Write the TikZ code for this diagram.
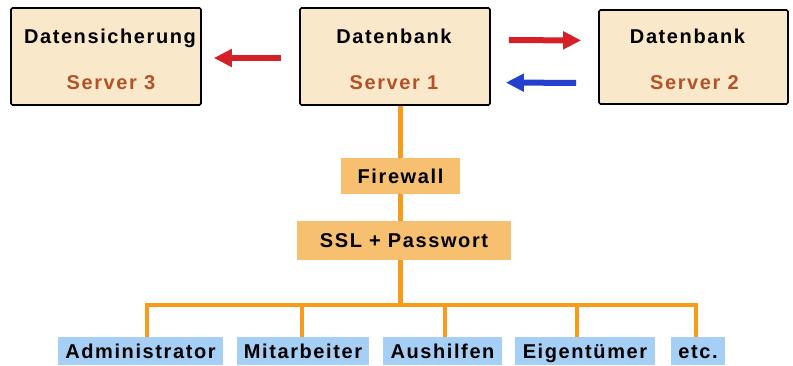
\documentclass[tikz,border=0pt]{standalone}
\usepackage{fontspec}
\setmainfont{Liberation Sans}[LetterSpace=8.0]
\usetikzlibrary{arrows.meta}
\definecolor{boxfill}{RGB}{250,232,202}
\definecolor{brownt}{RGB}{178,82,38}
\definecolor{orl}{RGB}{247,155,24}
\definecolor{orbox}{RGB}{246,192,112}
\definecolor{bluebox}{RGB}{165,207,245}
\definecolor{arrred}{RGB}{214,32,40}
\definecolor{arrblue}{RGB}{36,64,204}
\tikzset{
  server/.style={draw=black, line width=1.6pt, fill=boxfill, rounded corners=1.5pt, inner sep=0pt},
  title/.style={anchor=base, font=\fontsize{20}{24}\selectfont\bfseries, text=black, inner sep=0pt},
  sub/.style={anchor=base, font=\fontsize{20}{24}\selectfont\bfseries, text=brownt, inner sep=0pt},
  secbox/.style={fill=orbox, inner sep=0pt, text height=16pt, text depth=2pt, font=\fontsize{20}{24}\selectfont\bfseries},
  userbox/.style={fill=bluebox, inner sep=0pt, minimum height=28pt, text height=16pt, text depth=2pt, font=\fontsize{20}{24}\selectfont\bfseries},
  flow/.style={line width=6pt, -{Triangle[length=18pt,width=17pt]}},
  bus/.style={draw=orl, line width=4.5pt, line join=miter}
}
\begin{document}
\begin{tikzpicture}[x=1pt,y=-1pt]
\useasboundingbox (0,0) rectangle (793,365);
% server boxes
\node[server, minimum width=190pt, minimum height=97pt] (s3) at (106,56.5) {};
\node[server, minimum width=190pt, minimum height=97pt] (s1) at (395,56.5) {};
\node[server, minimum width=189pt, minimum height=94pt] (s2) at (693.5,57) {};
\node[title] (t3) at ([xshift=4pt,yshift=13.5pt]s3.center) {Datensicherung};
\node[sub]   (u3) at ([xshift=5pt,yshift=-32.5pt]s3.center) {Server 3};
\node[title] (t1) at ([xshift=-1pt,yshift=13.5pt]s1.center) {Datenbank};
\node[sub]   (u1) at ([xshift=-1pt,yshift=-32.5pt]s1.center) {Server 1};
\node[title] (t2) at ([xshift=-6pt,yshift=14pt]s2.center) {Datenbank};
\node[sub]   (u2) at ([xshift=1pt,yshift=-32pt]s2.center) {Server 2};
% replication arrows
\draw[flow, arrred, shorten <=18pt, shorten >=12pt] ([yshift=-1.5pt]s1.west) -- ([yshift=-1.5pt]s3.east);
\draw[flow, arrred, shorten <=18pt, shorten >=17pt] ([yshift=16.5pt]s1.east) -- ([yshift=16.5pt]s2.west);
\draw[flow, arrblue, shorten <=22pt, shorten >=15pt] ([yshift=-26pt]s2.west) -- ([yshift=-26pt]s1.east);
% security layers
\node[secbox, minimum width=119pt, minimum height=36pt] (fw) at (400.5,176) {Firewall};
\node[secbox, minimum width=214pt, minimum height=39pt] (ssl) at (404,240.5) {SSL + Passwort};
% users
\node[userbox, minimum width=165pt] (adm) at (140.5,351) {Administrator};
\node[userbox, minimum width=132pt] (mit) at (303,351) {Mitarbeiter};
\node[userbox, minimum width=119pt] (aus) at (442.5,351) {Aushilfen};
\node[userbox, minimum width=140pt] (eig) at (585,351) {Eigentümer};
\node[userbox, minimum width=54pt]  (etc) at (698,351) {etc.};
% trunk and bus
\coordinate (busL) at (147,305);
\coordinate (busR) at (696,305);
\coordinate (d2) at (302,305);
\coordinate (d3) at (445,305);
\coordinate (d4) at (577,305);
\draw[bus] (fw.north |- s1.south) -- (fw.north);
\draw[bus] (fw.south) -- (fw.south |- ssl.north);
\draw[bus] (fw.south |- ssl.south) -- (fw.south |- busL);
\draw[bus] (busL |- adm.north) -- (busL) -- (busR) -- (busR |- etc.north);
\draw[bus] (d2) -- (d2 |- mit.north);
\draw[bus] (d3) -- (d3 |- aus.north);
\draw[bus] (d4) -- (d4 |- eig.north);
\end{tikzpicture}
\end{document}
